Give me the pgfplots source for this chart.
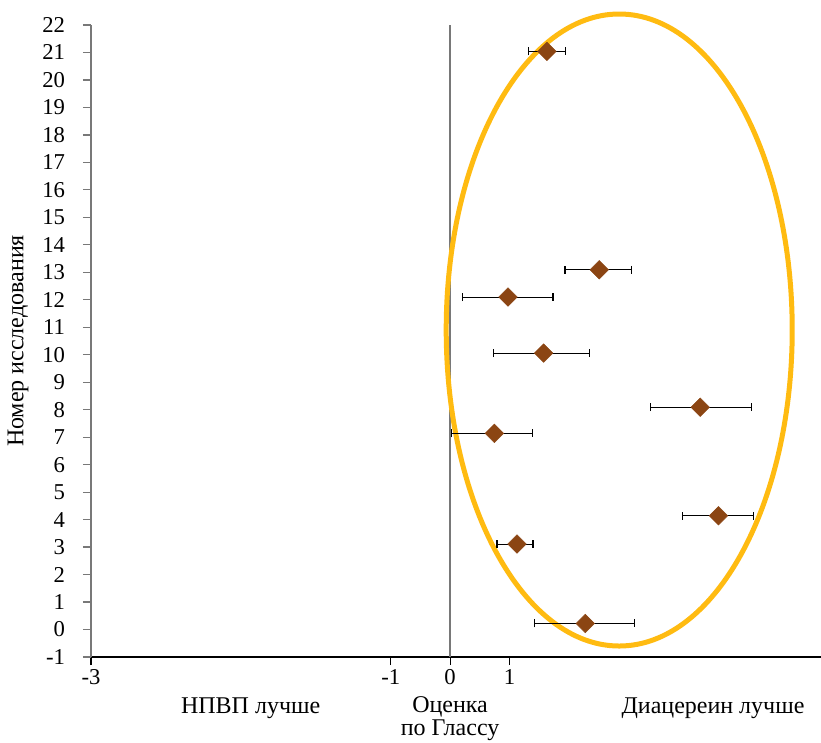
\documentclass[border=0pt]{standalone}
\usepackage{fontspec}
\setmainfont{Liberation Serif}
\usepackage{pgfplots}
\usepackage{pgfplotstable}
\pgfplotsset{compat=1.18}
\definecolor{diam}{RGB}{139,69,19}
\definecolor{gold}{RGB}{255,187,17}
\definecolor{axgray}{RGB}{120,120,120}

\pgfplotstableread{
x y ep em
1.633 21.04 0.308 0.310
2.513 13.09 0.539 0.577
0.976 12.10 0.758 0.774
1.576 10.06 0.774 0.842
4.214 8.09 0.870 0.842
0.746 7.14 0.645 0.724
4.522 4.14 0.589 0.611
1.128 3.11 0.269 0.337
2.278 0.22 0.836 0.859
}\datatab

\begin{document}
\begin{tikzpicture}
\begin{axis}[
  scale only axis, width=547.5pt, height=474pt,
  xmin=-6.05, xmax=6.25, ymin=-1, ymax=22,
  axis x line=bottom, axis y line=left,
  x axis line style={-, black, line width=0.8pt},
  y axis line style={-, axgray, line width=0.9pt},
  xtick={-6.05,-1,0,1}, xticklabels={-3,-1,0,1},
  ytick={-1,0,...,22},
  tick align=outside,
  major tick length=6pt,
  x tick style={black, line width=0.8pt},
  y tick style={axgray, line width=0.9pt},
  ticklabel style={font=\fontsize{17}{18}\selectfont},
  yticklabel style={xshift=-10pt},
  /pgf/number format/assume math mode=true,
  clip=false,
  every axis y label/.style={at={(axis description cs:-0.1,0.5)}, rotate=90, anchor=center},
  ylabel={\fontsize{18}{20}\selectfont Номер исследования},
]
\coordinate (BL) at (rel axis cs:0,0);
\coordinate (TR) at (rel axis cs:1,1);
\addplot[axgray, line width=1pt, forget plot] coordinates {(0,-1) (0,22)};
\draw[gold, line width=3.75pt] (axis cs:2.85,10.9) ellipse [x radius=129.75pt, y radius=237pt];
\addplot[only marks, mark=square*, mark size=4.9pt,
  mark options={rotate=45, fill=diam, draw=diam},
  error bars/.cd, x dir=both, x explicit,
  error bar style={black, line width=0.8pt},
  error mark options={rotate=90, mark size=3pt, black, line width=0.8pt}]
  table[x=x, y=y, x error plus=ep, x error minus=em]{\datatab};
\node[font=\fontsize{18}{20}\selectfont] at (axis cs:-3.36,-1) [yshift=-38.25pt] {НПВП лучше};
\node[font=\fontsize{18}{17.25}\selectfont, align=center] at (axis cs:0.0,-1) [yshift=-46.5pt] {Оценка\\по Глассу};
\node[font=\fontsize{18}{20}\selectfont] at (axis cs:4.43,-1) [yshift=-38.25pt] {Диацереин лучше};
\end{axis}
\pgfresetboundingbox
\path ([shift={(-68.25pt,-63.75pt)}]BL) rectangle ([shift={(0pt,18.75pt)}]TR);
\end{tikzpicture}
\end{document}
